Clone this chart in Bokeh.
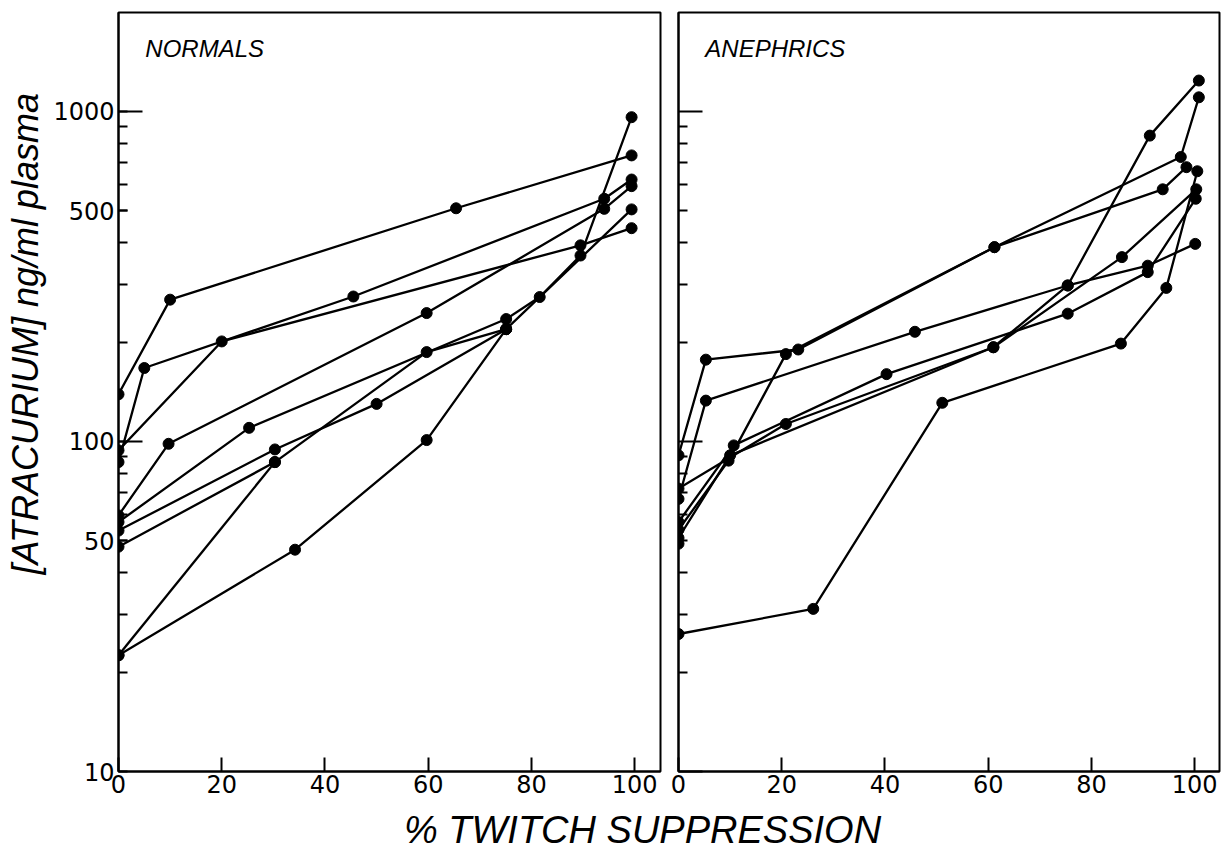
import math
from bokeh.plotting import figure
from bokeh.models import Range1d, FixedTicker, LogAxis, Label, BasicTickFormatter
from bokeh.layouts import row, column
from bokeh.embed import file_html
from bokeh.resources import INLINE

# ---------------- data ----------------
# NORMALS panel: % twitch suppression (x) vs [atracurium] ng/ml (y)
n1_x = [0, 10, 65.4, 99.4];                  n1_y = [139, 269, 509, 736]
n2_x = [0, 20, 89.5, 99.4];                  n2_y = [94, 201, 393, 443]
n3_x = [0, 5, 45.5, 94.1, 99.4];             n3_y = [86.6, 167, 275, 544, 622]
n4_x = [0, 9.7, 59.7, 94.1, 99.4];           n4_y = [59.7, 98.4, 245, 507, 594]
n5_x = [0, 25.3, 75.1, 81.6, 89.5, 99.4];    n5_y = [57, 110, 235, 274, 366, 961]
n6_x = [0, 30.3, 50, 75.1, 99.4];            n6_y = [53.7, 94.6, 130, 219, 505]
n7_x = [0, 30.3, 59.7, 75.1];                n7_y = [48, 86.6, 186.6, 219]
n8_x = [0, 30.3];                            n8_y = [22.5, 86.6]
n9_x = [0, 34.2, 59.7, 75.1];                n9_y = [22.5, 47, 101, 219]

# ANEPHRICS panel
a1_x = [0, 5.3, 23.2, 61.2, 97.3, 100.8];    a1_y = [90.8, 177, 190, 388, 728, 1104]
a2_x = [0, 10.7, 40.3, 75.4, 90.9, 100.2];   a2_y = [57, 97.3, 160, 244, 326, 544]
a3_x = [0, 5.3, 45.8, 75.4, 90.9, 100.1];    a3_y = [67, 133, 215, 297, 341, 397]
a4_x = [0, 20.8, 61.0, 85.9, 100.3];         a4_y = [72, 113, 193, 362, 581]
a5_x = [0, 9.7, 20.8, 61.2, 93.8, 98.4];     a5_y = [54, 87.5, 184, 388, 581, 678]
a6_x = [0, 26.1, 51.1, 85.7, 94.5, 100.5];   a6_y = [26.1, 31.1, 131, 198, 292, 659]
a7_x = [0, 10.0, 61.0, 75.4, 91.3, 100.8];   a7_y = [51, 90.8, 193, 297, 845, 1241]
a8_x = [0];                                  a8_y = [49]

normals = [(n1_x, n1_y), (n2_x, n2_y), (n3_x, n3_y), (n4_x, n4_y), (n5_x, n5_y),
           (n6_x, n6_y), (n7_x, n7_y), (n8_x, n8_y), (n9_x, n9_y)]
anephrics = [(a1_x, a1_y), (a2_x, a2_y), (a3_x, a3_y), (a4_x, a4_y), (a5_x, a5_y),
             (a6_x, a6_y), (a7_x, a7_y), (a8_x, a8_y)]

x_ticks = [0, 20, 40, 60, 80, 100]
y_labeled_ticks = [10, 50, 100, 500, 1000]
y_long_ticks = [100, 1000]
y_minor_ticks = [20, 30, 40, 50, 60, 70, 80, 90, 200, 300, 400, 500, 600, 700, 800, 900]

panel_titles = ["NORMALS", "ANEPHRICS"]
y_title = "[ATRACURIUM] ng/ml plasma"
x_title = "% TWITCH SUPPRESSION"

TICK_FONT = "DejaVu Sans"
ITAL_FONT = "Liberation Sans"


def make_panel(series, title, labeled, frame_w, xmax, b_left, b_right):
    p = figure(x_range=Range1d(0, xmax), y_range=Range1d(10, 1995), y_axis_type="log",
               frame_width=frame_w, frame_height=759,
               min_border_left=b_left, min_border_right=b_right,
               min_border_top=12, min_border_bottom=30,
               output_backend="svg", toolbar_location=None)
    p.grid.visible = False
    p.outline_line_color = "black"
    p.outline_line_width = 2
    p.background_fill_color = "white"
    p.border_fill_color = "white"

    # x axis
    xa = p.xaxis[0]
    xa.ticker = FixedTicker(ticks=x_ticks)
    xa.major_tick_in = 14
    xa.major_tick_out = 0
    xa.minor_tick_line_color = None
    xa.axis_line_width = 2
    xa.major_tick_line_width = 2
    xa.major_label_standoff = 3
    xa.major_label_text_font = TICK_FONT
    xa.major_label_text_font_size = "24px"
    xa.major_label_text_color = "black"

    # y axis
    ya = p.yaxis[0]
    ya.axis_line_width = 2
    ya.major_tick_out = 0
    ya.minor_tick_out = 0
    ya.minor_tick_in = 9
    ya.major_tick_line_width = 2
    ya.minor_tick_line_width = 2
    if labeled:
        ya.ticker = FixedTicker(ticks=y_labeled_ticks, minor_ticks=y_minor_ticks)
        ya.formatter = BasicTickFormatter()
        ya.major_tick_in = 9
        ya.major_label_standoff = 4
        ya.major_label_text_font = TICK_FONT
        ya.major_label_text_font_size = "24px"
        ya.major_label_text_color = "black"
        long_axis = LogAxis(fixed_location=0,
                            ticker=FixedTicker(ticks=y_long_ticks, minor_ticks=[]),
                            major_tick_in=24, major_tick_out=0,
                            minor_tick_in=0, minor_tick_out=0,
                            major_tick_line_width=2,
                            axis_line_color=None,
                            major_label_overrides={t: "" for t in y_long_ticks},
                            major_label_standoff=0,
                            major_label_text_font_size="1px")
        p.add_layout(long_axis, "left")
    else:
        ya.ticker = FixedTicker(ticks=[10] + y_long_ticks, minor_ticks=y_minor_ticks)
        ya.major_tick_in = 24
        ya.major_label_overrides = {t: "" for t in [10] + y_long_ticks}
        ya.major_label_standoff = 0
        ya.major_label_text_font_size = "1px"

    for xs, ys in series:
        p.line(xs, ys, line_color="black", line_width=2.3)
        p.scatter(xs, ys, size=11, color="black")

    p.add_layout(Label(x=5.2, y=1552, text=title, text_font=ITAL_FONT,
                       text_font_style="italic", text_font_size="24px",
                       text_color="black", text_baseline="middle"))
    return p


# narrow strip holding the rotated y title
p0 = figure(width=48, height=801, x_range=Range1d(0, 48), y_range=Range1d(0, 801),
            x_axis_location=None, y_axis_location=None, min_border=0,
            output_backend="svg", toolbar_location=None)
p0.grid.visible = False
p0.outline_line_color = None
p0.add_layout(Label(x=25, y=462, text=y_title, angle=math.pi / 2,
                    text_font=ITAL_FONT, text_font_style="italic",
                    text_font_size="36px", text_color="black",
                    text_align="center", text_baseline="middle"))

p1 = make_panel(normals, panel_titles[0], True, 542, 105, 70, 9)
p2 = make_panel(anephrics, panel_titles[1], False, 541, 104.8, 9, 3)

p3 = figure(width=1222, height=50, x_range=Range1d(0, 1222), y_range=Range1d(851, 801),
            x_axis_location=None, y_axis_location=None, min_border=0,
            output_backend="svg", toolbar_location=None)
p3.grid.visible = False
p3.outline_line_color = None
p3.add_layout(Label(x=642, y=829, text=x_title, text_font=ITAL_FONT,
                    text_font_style="italic", text_font_size="38px",
                    text_color="black", text_align="center", text_baseline="middle"))

layout = column(row(p0, p1, p2), p3)
open("out.html", "w").write(file_html(layout, INLINE))
